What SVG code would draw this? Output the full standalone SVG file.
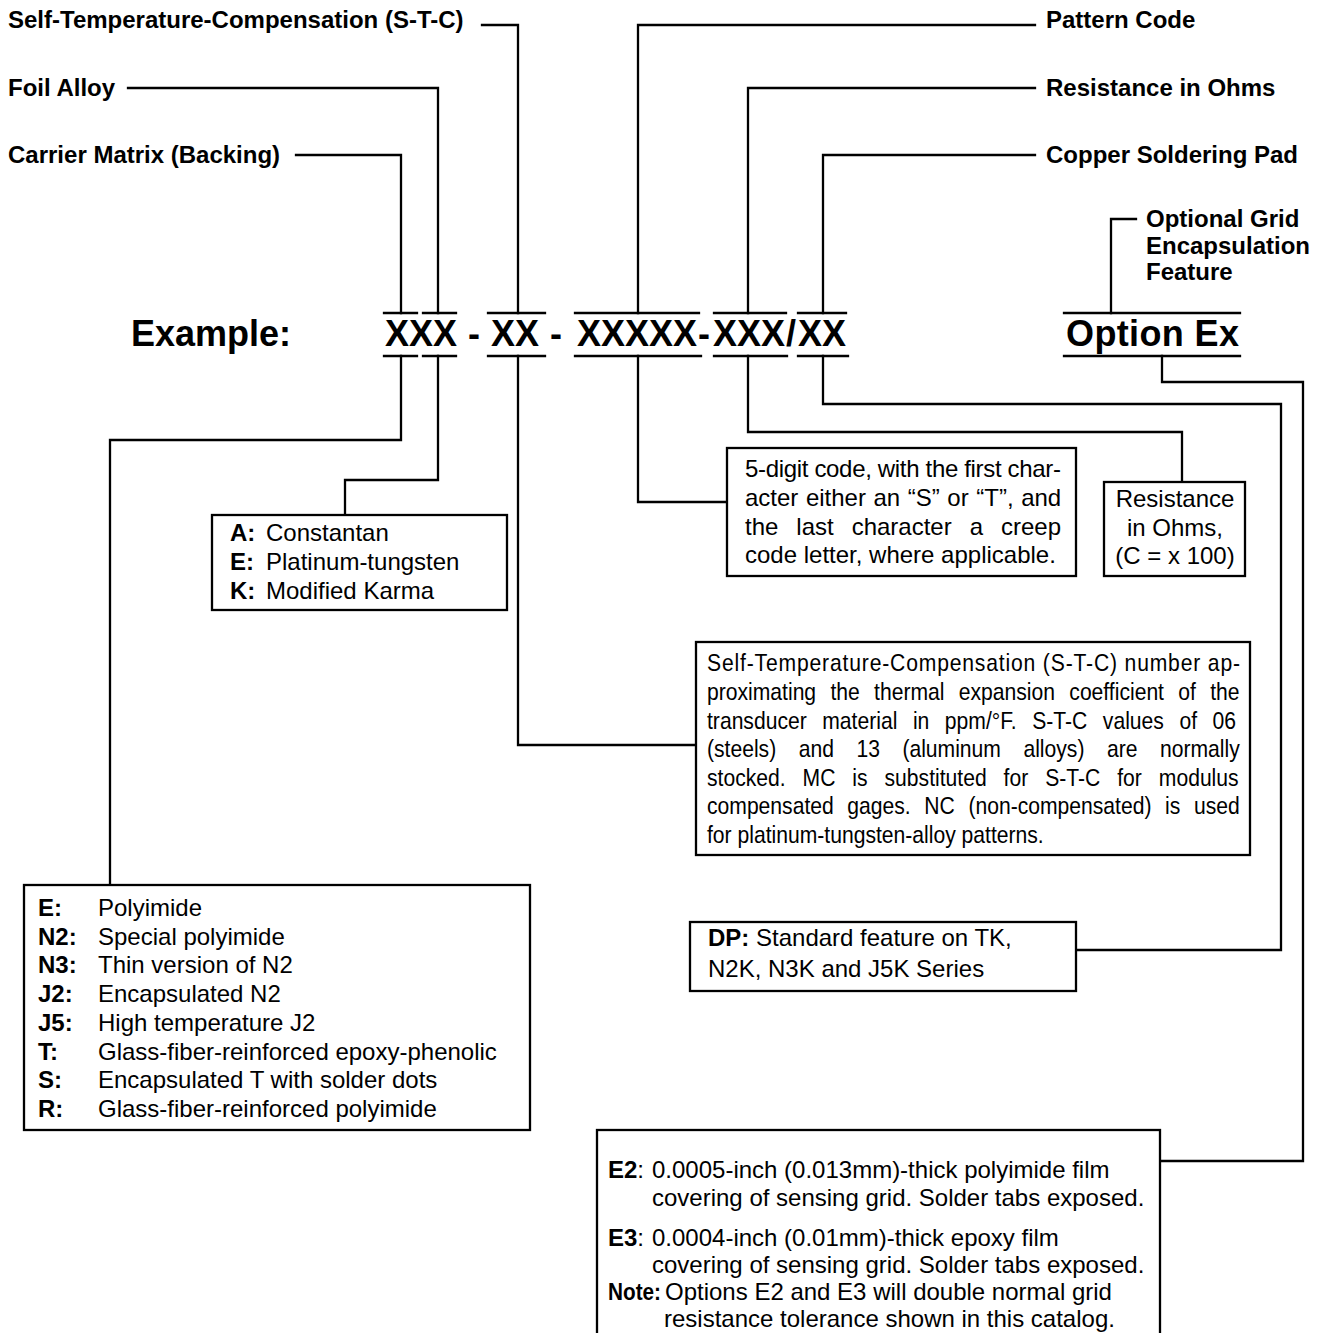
<svg xmlns="http://www.w3.org/2000/svg" width="1320" height="1333" viewBox="0 0 1320 1333">
<style>
text{font-family:"Liberation Sans",Arial,Helvetica,sans-serif;fill:#000}
.h{font-size:24px;font-weight:bold}
.b{font-size:24px}
.bb{font-weight:bold}
.ex{font-size:36px;font-weight:bold}
.ln{fill:none;stroke:#000;stroke-width:2.3;stroke-linecap:square;stroke-linejoin:miter}
.box{fill:#fff;stroke:#000;stroke-width:2.3}
</style>
<rect width="1320" height="1333" fill="#fff"/>

<g id="connectors">
  <path class="ln" d="M482 25 H518 V313"/>
  <path class="ln" d="M128 88 H438 V313"/>
  <path class="ln" d="M296 155 H401 V313"/>
  <path class="ln" d="M1035 25 H638 V313"/>
  <path class="ln" d="M1035 88 H748 V313"/>
  <path class="ln" d="M1035 155 H823 V313"/>
  <path class="ln" d="M1136 219 H1111 V313"/>
  <path class="ln" d="M401 356 V440 H110 V885"/>
  <path class="ln" d="M438 356 V480 H345 V515"/>
  <path class="ln" d="M518 356 V745 H696"/>
  <path class="ln" d="M638 356 V502 H727"/>
  <path class="ln" d="M748 356 V432 H1182 V482"/>
  <path class="ln" d="M823 356 V404 H1281 V950 H1076"/>
  <path class="ln" d="M1162 356 V382 H1303 V1161 H1160"/>
  <path class="ln" d="M384 313 H417 M423 313 H456 M488 313 H545 M575 313 H699 M714 313 H786 M798 313 H846 M1064 313 H1240"/>
  <path class="ln" d="M384 356 H417 M423 356 H456 M488 356 H545 M575 356 H701 M714 356 H787 M798 356 H848 M1064 356 H1240"/>
</g>

<g id="label-stc"><text class="h" x="8" y="28">Self-Temperature-Compensation (S-T-C)</text></g>
<g id="label-foil"><text class="h" x="8" y="96">Foil Alloy</text></g>
<g id="label-carrier"><text class="h" x="8" y="163">Carrier Matrix (Backing)</text></g>
<g id="label-pattern"><text class="h" x="1046" y="28">Pattern Code</text></g>
<g id="label-resistance"><text class="h" x="1046" y="96">Resistance in Ohms</text></g>
<g id="label-copper"><text class="h" x="1046" y="163">Copper Soldering Pad</text></g>
<g id="label-option"><text class="h" x="1146" y="227">Optional Grid</text><text class="h" x="1146" y="254">Encapsulation</text><text class="h" x="1146" y="280">Feature</text></g>

<g id="example">
  <text class="ex" x="131" y="346">Example:</text>
  <text class="ex" y="346"><tspan x="385">XXX</tspan><tspan x="468">-</tspan><tspan x="491">XX</tspan><tspan x="550">-</tspan><tspan x="577">XXXXX</tspan><tspan x="698">-</tspan><tspan x="713">XXX</tspan><tspan x="786">/</tspan><tspan x="798">XX</tspan></text>
  <text class="ex" x="1066" y="346" textLength="173" lengthAdjust="spacing">Option Ex</text>
</g>

<g id="box-alloy">
  <rect class="box" x="212" y="515" width="295" height="95"/>
  <text class="b" y="541"><tspan class="bb" x="230">A:</tspan><tspan x="266">Constantan</tspan></text>
  <text class="b" y="570"><tspan class="bb" x="230">E:</tspan><tspan x="266">Platinum-tungsten</tspan></text>
  <text class="b" y="599"><tspan class="bb" x="230">K:</tspan><tspan x="266">Modified Karma</tspan></text>
</g>

<g id="box-pattern">
  <rect class="box" x="727" y="448" width="349" height="128"/>
  <text class="b" x="745" y="477" textLength="316" lengthAdjust="spacing">5-digit code, with the first char-</text>
  <text class="b" x="745" y="506" word-spacing="0.9">acter either an “S” or “T”, and</text>
  <text class="b" x="745" y="535" word-spacing="11.3">the last character a creep</text>
  <text class="b" x="745" y="563">code letter, where applicable.</text>
</g>

<g id="box-resistance">
  <rect class="box" x="1104" y="482" width="141" height="94"/>
  <text class="b" x="1175" y="507" text-anchor="middle">Resistance</text>
  <text class="b" x="1175" y="536" text-anchor="middle">in Ohms,</text>
  <text class="b" x="1175" y="564" text-anchor="middle">(C = x 100)</text>
</g>

<g id="box-stc">
  <rect class="box" x="696" y="642" width="554" height="213"/>
  <text class="b" transform="translate(707 671) scale(0.88 1)" textLength="605.7" lengthAdjust="spacing">Self-Temperature-Compensation (S-T-C) number ap-</text>
  <text class="b" transform="translate(707 700) scale(0.88 1)" word-spacing="9.6">proximating the thermal expansion coefficient of the</text>
  <text class="b" transform="translate(707 729) scale(0.88 1)" word-spacing="11">transducer material in ppm/°F. S-T-C values of 06</text>
  <text class="b" transform="translate(707 757) scale(0.88 1)" word-spacing="18.9">(steels) and 13 (aluminum alloys) are normally</text>
  <text class="b" transform="translate(707 786) scale(0.88 1)" word-spacing="12.6">stocked. MC is substituted for S-T-C for modulus</text>
  <text class="b" transform="translate(707 814) scale(0.88 1)" word-spacing="8.8">compensated gages. NC (non-compensated) is used</text>
  <text class="b" transform="translate(707 843) scale(0.88 1)">for platinum-tungsten-alloy patterns.</text>
</g>

<g id="box-backing">
  <rect class="box" x="24" y="885" width="506" height="245"/>
  <text class="b" y="916"><tspan class="bb" x="38">E:</tspan><tspan x="98">Polyimide</tspan></text>
  <text class="b" y="944.7"><tspan class="bb" x="38">N2:</tspan><tspan x="98">Special polyimide</tspan></text>
  <text class="b" y="973.4"><tspan class="bb" x="38">N3:</tspan><tspan x="98">Thin version of N2</tspan></text>
  <text class="b" y="1002"><tspan class="bb" x="38">J2:</tspan><tspan x="98">Encapsulated N2</tspan></text>
  <text class="b" y="1030.8"><tspan class="bb" x="38">J5:</tspan><tspan x="98">High temperature J2</tspan></text>
  <text class="b" y="1059.5"><tspan class="bb" x="38">T:</tspan><tspan x="98">Glass-fiber-reinforced epoxy-phenolic</tspan></text>
  <text class="b" y="1088"><tspan class="bb" x="38">S:</tspan><tspan x="98">Encapsulated T with solder dots</tspan></text>
  <text class="b" y="1117"><tspan class="bb" x="38">R:</tspan><tspan x="98">Glass-fiber-reinforced polyimide</tspan></text>
</g>

<g id="box-dp">
  <rect class="box" x="690" y="922" width="386" height="69"/>
  <text class="b" x="708" y="946"><tspan class="bb">DP:</tspan> Standard feature on TK,</text>
  <text class="b" x="708" y="977">N2K, N3K and J5K Series</text>
</g>

<g id="box-option">
  <rect class="box" x="597" y="1130" width="563" height="220"/>
  <text class="b" y="1178"><tspan x="608" class="bb">E2</tspan><tspan>:</tspan><tspan x="652">0.0005-inch (0.013mm)-thick polyimide film</tspan></text>
  <text class="b" x="652" y="1205.5">covering of sensing grid. Solder tabs exposed.</text>
  <text class="b" y="1246"><tspan x="608" class="bb">E3</tspan><tspan>:</tspan><tspan x="652">0.0004-inch (0.01mm)-thick epoxy film</tspan></text>
  <text class="b" x="652" y="1273">covering of sensing grid. Solder tabs exposed.</text>
  <text class="b bb" x="608" y="1300" textLength="53" lengthAdjust="spacingAndGlyphs">Note:</text>
  <text class="b" x="665" y="1300">Options E2 and E3 will double normal grid</text>
  <text class="b" x="664" y="1327">resistance tolerance shown in this catalog.</text>
</g>
</svg>
